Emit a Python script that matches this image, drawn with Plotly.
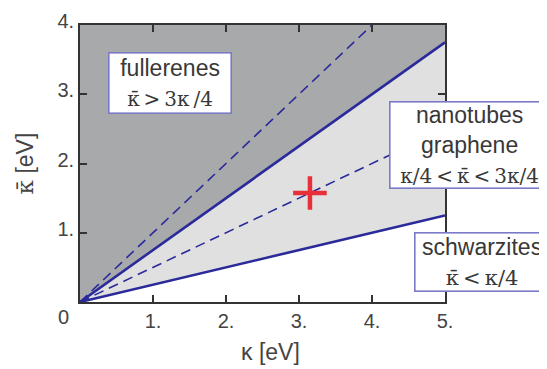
import plotly.graph_objects as go

# data
kappa = [0, 5]
kbar_upper = [0, 3.75]      # kbar = 3k/4
kbar_lower = [0, 1.25]      # kbar = k/4
dash1_x = [0, 4]
dash1_y = [0, 4]            # kbar = k
dash2_x = [0, 5]
dash2_y = [0, 2.5]          # kbar = k/2
point_x = [3.15]
point_y = [1.575]
x_tickvals = [1, 2, 3, 4, 5]
x_ticktext = ["1.", "2.", "3.", "4.", "5."]
y_tickvals = [1, 2, 3, 4]
y_ticktext = ["1.", "2.", "3.", "4."]

DARK = "#a8a9ab"
LIGHT = "#e0e0e0"
LINE = "#2a2a9a"
BOX = "#7a7ac8"
TXT = "#383838"
SERIF = "DejaVu Serif"
KBAR = "κ\u0304"
TS = "\u2009"  # thin space

fig = go.Figure()
fig.add_trace(go.Scatter(x=kappa, y=kbar_lower, mode="lines", fill="tozeroy",
                         fillcolor="white", line=dict(color=LINE, width=2.6),
                         showlegend=False, hoverinfo="skip"))
fig.add_trace(go.Scatter(x=kappa, y=kbar_upper, mode="lines", fill="tonexty",
                         fillcolor=LIGHT, line=dict(color=LINE, width=2.6),
                         showlegend=False, hoverinfo="skip"))
fig.add_trace(go.Scatter(x=dash1_x, y=dash1_y, mode="lines",
                         line=dict(color=LINE, width=1.6, dash="10px,6px"),
                         showlegend=False, hoverinfo="skip"))
fig.add_trace(go.Scatter(x=dash2_x, y=dash2_y, mode="lines",
                         line=dict(color=LINE, width=1.6, dash="10px,6px"),
                         showlegend=False, hoverinfo="skip"))
fig.add_trace(go.Scatter(x=point_x, y=point_y, mode="markers",
                         marker=dict(symbol="cross-thin", size=24,
                                     line=dict(color="#e8303a", width=4.5)),
                         showlegend=False, hoverinfo="skip"))

axis_common = dict(showline=True, linecolor="#333333", linewidth=1.8, mirror="ticks",
                   ticks="inside", ticklen=7, tickwidth=1.6, tickcolor="#333333",
                   showgrid=False, zeroline=False, ticklabeloverflow="allow",
                   tickfont=dict(family="Liberation Sans", size=20, color="#444444"))

fig.update_xaxes(range=[0, 5], tickvals=x_tickvals, ticktext=x_ticktext, **axis_common)
fig.update_yaxes(range=[0, 4], tickvals=y_tickvals, ticktext=y_ticktext,
                 ticklabelshift=-4, **axis_common)

def box(text, x, y, w, h):
    fig.add_annotation(x=x, y=y, xref="paper", yref="paper", text=text, showarrow=False,
                       bgcolor="white", bordercolor=BOX, borderwidth=1.6, borderpad=0,
                       width=w, height=h, align="center", valign="middle",
                       xanchor="center", yanchor="middle",
                       font=dict(family="Liberation Sans", size=23, color=TXT))

def math(s, size=20):
    return "<span style=\"font-family:'%s';font-size:%dpx\">%s</span>" % (SERIF, size, s)

box("fullerenes<br>" + math(KBAR + TS + "&gt;" + TS + "3κ" + TS + "/4", 20),
    0.247, 0.791, 121, 59)
box("nanotubes<br>graphene<br>" + math("κ/4" + TS + "&lt;" + TS + KBAR + TS + "&lt;" + TS + "3κ/4", 20),
    1.066, 0.568, 158, 85)
box("schwarzites<br>" + math(KBAR + TS + "&lt;" + TS + "κ/4", 21), 1.10, 0.144, 133, 57)

# corner zero label
fig.add_annotation(x=0, y=0, xref="x", yref="y", text="0", showarrow=False,
                   xshift=-17, yshift=-15,
                   font=dict(family="Liberation Sans", size=20, color="#444444"))

# axis titles
fig.add_annotation(x=0.523, y=-0.18, xref="paper", yref="paper", text="κ [eV]",
                   showarrow=False, yanchor="middle",
                   font=dict(family="Liberation Sans", size=23, color="#444444"))
fig.add_annotation(x=-0.151, y=0.5, xref="paper", yref="paper",
                   text=math(KBAR, 23) + " [eV]",
                   showarrow=False, textangle=-90, xanchor="center",
                   font=dict(family="Liberation Sans", size=23, color="#444444"))

fig.update_layout(width=547, height=369, margin=dict(l=72, r=110, t=2, b=75),
                  plot_bgcolor=DARK, paper_bgcolor="white")

fig.write_html("out.html")
